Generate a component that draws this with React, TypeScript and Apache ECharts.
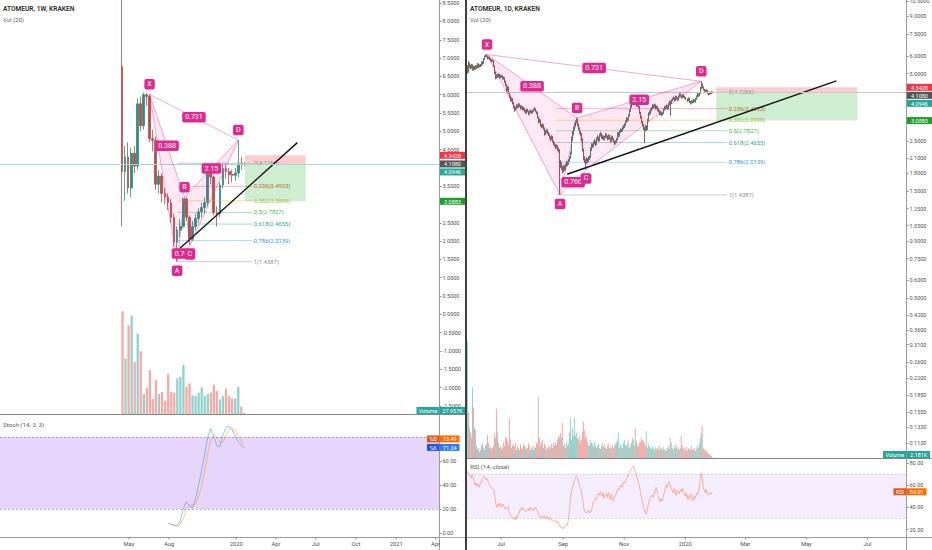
import React, { useEffect, useRef } from 'react';
import * as echarts from 'echarts';

const FONT = 'Roboto, "Noto Sans", "DejaVu Sans", sans-serif';

// ---------------- LEFT: weekly ----------------
const weekDates = ['2019-04-15','2019-04-22','2019-04-29','2019-05-06','2019-05-13','2019-05-20','2019-05-27','2019-06-03','2019-06-10','2019-06-17','2019-06-24','2019-07-01','2019-07-08','2019-07-15','2019-07-22','2019-07-29','2019-08-05','2019-08-12','2019-08-19','2019-08-26','2019-09-02','2019-09-09','2019-09-16','2019-09-23','2019-09-30','2019-10-07','2019-10-14','2019-10-21','2019-10-28','2019-11-04','2019-11-11','2019-11-18','2019-11-25','2019-12-02','2019-12-09','2019-12-16','2019-12-23','2019-12-30','2020-01-06','2020-01-13','2020-01-20'];
const weekOpen = [6.77,3.90,4.30,3.45,4.40,4.05,5.75,5.15,6.00,5.95,4.80,4.75,3.55,3.78,3.30,3.20,3.05,2.65,1.97,2.30,2.40,3.15,2.65,2.05,2.40,2.62,2.80,2.92,3.05,3.95,3.75,2.78,2.74,3.53,3.98,3.90,3.82,3.80,3.86,4.13,4.10];
const weekClose = [3.90,4.30,3.45,4.40,4.05,5.75,5.15,6.00,5.95,4.80,4.75,3.55,3.78,3.30,3.20,3.05,2.65,1.97,2.30,2.40,3.15,2.65,2.05,2.40,2.62,2.80,2.92,3.05,3.95,3.75,2.78,2.74,3.53,3.98,3.90,3.82,3.80,3.86,4.13,4.10,4.108];
const weekLow = [2.40,3.10,3.30,3.20,3.85,3.95,5.00,5.05,5.70,4.70,4.45,3.40,3.30,3.05,3.00,2.85,2.50,1.85,1.44,2.10,2.35,2.55,1.90,2.00,2.30,2.50,2.65,2.75,2.95,3.55,2.70,2.40,2.65,3.45,3.70,3.55,3.60,3.65,3.75,3.95,4.05];
const weekHigh = [9.20,4.60,4.70,4.55,4.60,5.90,5.95,6.05,6.04,6.02,5.05,4.85,3.95,3.85,3.45,3.30,3.15,2.75,2.40,2.60,3.20,3.20,2.70,2.55,2.75,2.90,3.05,3.20,4.05,4.05,3.80,2.95,3.60,4.15,4.15,4.00,3.95,4.00,4.76,4.30,4.15];
const weekVolume = [2163,1169,1869,2072,1099,1694,1323,420,553,924,315,714,420,462,280,840,462,448,749,784,1029,574,644,399,378,448,560,378,420,448,616,483,308,378,532,378,322,322,574,154,28];
// Stoch %K starts at week index 15, %D at week index 16
const stochK = [8.2,7.4,6.2,5.6,10,20,26,23,21,28,40,52,65,80,87,80,73,72,82,88,89,86,80,76,73,71.34];
const stochD = [7.8,7.0,6.3,7.3,12,19,23,23.5,24,30,40,52,66,77,82,80,75,76,81,86,88,85,81,76,73.49];

// ---------------- RIGHT: daily ----------------
const dayStart = '2019-05-28';
const dayFirstOpen = 5.05;
const dayClose = [
5.35,5.10,5.55,5.40,5.30,5.45,5.20,5.35,5.25,5.40,
5.30,5.50,5.35,5.45,5.40,5.60,5.55,5.80,5.95,6.05,
5.98,5.85,5.90,5.80,5.75,5.70,5.72,5.40,5.05,4.80,
4.90,4.85,4.95,4.80,4.90,4.85,4.75,4.80,4.60,4.45,
4.20,4.35,4.10,3.95,3.80,3.85,3.70,3.55,3.45,3.50,
3.60,3.55,3.65,3.60,3.50,3.55,3.45,3.50,3.40,3.35,
3.45,3.40,3.30,3.38,3.42,3.35,3.40,3.45,3.48,3.40,
3.35,3.20,3.05,3.10,2.95,2.90,2.95,2.85,2.70,2.75,
2.80,2.72,2.68,2.60,2.55,2.62,2.50,2.45,2.40,2.35,
2.38,2.30,2.28,1.95,2.00,1.90,1.85,1.92,1.88,1.95,
2.00,1.98,2.05,2.10,2.20,2.55,2.70,2.85,2.95,3.05,
3.12,2.95,2.85,2.75,2.70,2.55,2.30,2.10,2.05,2.02,
2.08,2.05,2.10,2.12,2.30,2.40,2.38,2.45,2.50,2.42,
2.55,2.60,2.52,2.65,2.70,2.58,2.62,2.55,2.60,2.68,
2.62,2.55,2.65,2.58,2.50,2.62,2.55,2.50,2.45,2.48,
2.55,2.70,2.65,2.75,2.80,2.78,2.85,2.90,2.95,3.05,
3.15,3.10,3.25,3.40,3.55,3.70,3.82,3.75,3.70,3.72,
3.60,3.65,3.55,3.35,3.20,3.05,2.95,2.85,2.80,2.90,
2.82,3.10,3.30,3.35,3.45,3.50,3.60,3.55,3.62,3.50,
3.55,3.45,3.40,3.30,3.35,3.28,3.32,3.45,3.55,3.50,
3.60,3.48,3.65,3.75,3.70,3.80,3.85,3.90,3.80,3.95,
3.88,3.82,3.95,4.05,3.98,3.90,4.02,3.95,3.90,3.85,
3.80,3.88,3.75,3.70,3.78,3.72,3.82,3.75,3.85,3.95,
4.05,3.98,4.10,4.30,4.50,4.35,4.25,4.20,4.15,4.22,
4.10,4.05,4.12,4.08,4.15,4.108];
const dayHigh = [
6.15,5.45,5.70,5.60,5.48,5.52,5.50,5.42,5.40,5.46,
5.45,5.58,5.55,5.50,5.52,5.66,5.68,5.86,6.02,6.10,
6.08,6.00,5.96,5.93,5.85,5.80,5.78,5.75,5.45,5.10,
4.98,4.96,5.02,4.98,4.95,4.94,4.90,4.86,4.82,4.65,
4.50,4.40,4.38,4.15,4.00,3.92,3.88,3.74,3.60,3.56,
3.66,3.64,3.70,3.68,3.62,3.60,3.58,3.55,3.52,3.44,
3.50,3.48,3.42,3.42,3.46,3.44,3.44,3.50,3.55,3.50,
3.42,3.38,3.22,3.15,3.12,2.98,3.00,2.97,2.88,2.80,
2.84,2.82,2.75,2.70,2.63,2.66,2.64,2.52,2.48,2.42,
2.42,2.40,2.34,2.30,2.06,2.02,1.94,1.96,1.95,1.99,
2.04,2.03,2.08,2.14,2.25,2.62,2.78,2.90,3.02,3.10,
3.18,3.14,2.98,2.88,2.78,2.72,2.58,2.32,2.14,2.08,
2.12,2.10,2.14,2.16,2.35,2.45,2.44,2.50,2.55,2.52,
2.60,2.66,2.62,2.70,2.75,2.72,2.66,2.65,2.64,2.72,
2.70,2.65,2.68,2.67,2.60,2.65,2.64,2.58,2.52,2.52,
2.58,2.75,2.74,2.80,2.85,2.84,2.90,2.95,3.00,3.10,
3.20,3.18,3.30,3.46,3.62,3.78,3.92,3.86,3.80,3.78,
3.75,3.70,3.68,3.58,3.38,3.24,3.08,2.98,2.90,2.95,
2.94,3.15,3.36,3.42,3.50,3.56,3.66,3.64,3.68,3.65,
3.60,3.58,3.50,3.44,3.40,3.38,3.36,3.50,3.60,3.58,
3.65,3.62,3.70,3.80,3.78,3.85,3.90,3.96,3.92,4.00,
3.98,3.92,4.00,4.10,4.08,4.00,4.06,4.04,3.98,3.94,
3.88,3.92,3.90,3.78,3.82,3.80,3.86,3.84,3.90,4.00,
4.10,4.08,4.15,4.36,4.62,4.52,4.38,4.28,4.24,4.26,
4.24,4.14,4.16,4.15,4.18,4.17];
const dayLow = [
4.60,5.00,5.05,5.30,5.22,5.25,5.15,5.15,5.18,5.20,
5.25,5.28,5.30,5.32,5.35,5.38,5.48,5.52,5.75,5.90,
5.92,5.78,5.80,5.74,5.68,5.62,5.65,5.35,4.98,4.72,
4.75,4.78,4.82,4.74,4.76,4.80,4.70,4.70,4.55,4.40,
4.15,4.16,4.05,3.90,3.75,3.76,3.65,3.50,3.38,3.42,
3.46,3.50,3.52,3.55,3.46,3.47,3.42,3.42,3.36,3.30,
3.32,3.36,3.26,3.28,3.34,3.31,3.32,3.38,3.42,3.36,
3.30,3.15,3.00,3.02,2.90,2.85,2.86,2.80,2.65,2.66,
2.72,2.68,2.64,2.56,2.50,2.52,2.46,2.40,2.36,2.30,
2.32,2.26,2.22,1.44,1.90,1.86,1.80,1.82,1.84,1.86,
1.92,1.94,1.96,2.02,2.08,2.18,2.50,2.66,2.80,2.90,
3.00,2.90,2.80,2.70,2.64,2.50,2.25,2.05,2.00,1.87,
1.98,2.00,2.02,2.06,2.10,2.26,2.33,2.35,2.42,2.38,
2.40,2.52,2.48,2.50,2.62,2.55,2.55,2.52,2.52,2.58,
2.58,2.52,2.53,2.55,2.46,2.48,2.52,2.46,2.40,2.42,
2.45,2.52,2.60,2.62,2.72,2.74,2.76,2.82,2.86,2.92,
3.02,3.05,3.08,3.22,3.38,3.52,3.66,3.70,3.64,3.62,
3.55,3.56,3.50,3.30,3.15,3.00,2.90,2.80,2.45,2.76,
2.78,2.80,3.05,3.25,3.30,3.40,3.46,3.50,3.52,3.46,
3.47,3.40,3.36,3.26,3.27,3.24,3.25,3.30,3.42,3.46,
3.48,3.44,3.46,3.62,3.25,3.66,3.76,3.82,3.76,3.78,
3.84,3.78,3.80,3.92,3.94,3.86,3.88,3.90,3.86,3.80,
3.74,3.76,3.70,3.64,3.68,3.68,3.70,3.72,3.72,3.82,
3.92,3.94,3.96,4.06,4.25,4.30,4.20,4.14,4.10,4.12,
4.06,4.00,4.02,4.04,4.05,4.08];
const dayVolume = [
345,135,90,75,60,210,150,90,84,36,
24,30,18,24,36,45,30,24,36,42,
69,45,30,36,24,30,36,75,60,147,
75,45,30,36,24,30,45,36,60,60,
51,39,117,54,30,36,42,33,45,24,
36,30,24,39,30,27,42,36,33,27,
30,42,36,24,30,36,24,33,30,45,
42,180,60,36,45,54,30,42,36,24,
30,36,27,33,42,30,45,36,48,39,
54,66,60,75,60,105,36,42,30,48,
36,42,75,117,54,90,66,120,66,75,
60,54,66,45,54,78,108,84,60,66,
48,39,36,54,45,42,33,48,39,30,
36,42,30,27,36,45,33,39,30,27,
36,42,30,33,27,39,30,36,42,45,
51,75,30,42,36,30,45,54,39,36,
42,54,30,36,45,60,54,36,90,51,
39,33,45,48,60,54,51,45,36,81,
30,42,36,30,27,36,30,24,33,27,
30,24,36,27,30,24,33,27,21,24,
30,36,27,60,45,30,24,36,30,42,
27,33,24,30,66,36,27,30,24,33,
21,27,30,24,36,27,24,30,21,27,
36,30,42,60,75,96,30,27,21,24,
18,15,12,9,6,2.181];
const dayRsi = [
70,72,71,68,66,69,67,63,60,62,
59,61,58,60,62,64,66,68,67,65,
66,63,62,60,58,57,56,55,48,42,
40,43,41,44,42,40,43,41,39,38,
40,41,36,34,32,31,30,31,29,32,
30,33,35,38,37,40,38,39,37,36,
38,39,37,40,38,39,37,38,40,39,
37,35,33,31,32,30,31,33,31,30,
32,30,29,31,30,28,29,28,27,28,
26,27,25,22,23,21,22,21,23,25,
24,27,35,45,52,56,60,63,66,68,
67,64,61,58,56,50,44,38,36,35,
36,37,35,37,36,40,44,46,48,47,
50,52,51,54,52,50,53,48,51,52,
49,53,50,47,52,49,46,48,50,52,
55,57,56,59,60,58,61,63,62,65,
67,69,71,73,74,76,77,75,72,70,
66,63,60,55,50,46,42,38,35,34,
38,42,46,48,50,51,49,52,55,58,
54,50,47,45,48,46,50,53,57,60,
58,61,63,60,57,55,53,57,54,51,
55,53,52,56,54,57,55,52,50,53,
48,51,47,49,52,48,46,50,48,51,
53,52,58,65,71,66,58,55,53,56,
52,51,52,53,52,54.01];

// ---------------- ticks ----------------
const leftPriceTicks = [8.5,8,7.5,7,6.5,6,5.5,5,4.5,3.5,2.5,2,1.5,1,0.5,0,-0.5,-1,-1.5,-2,-2.5];
const rightPriceTicks = [10.5,9,7.5,6,5,2.5,2.1,1.8,1.5,1.25,1.05,0.9,0.75,0.6,0.5,0.42,0.36,0.31,0.26,0.22,0.185,0.155,0.133,0.113];
const stochTicks = [60,40,20,0];
const rsiTicks = [80,60,40,20];
const leftDateTicks = ['2019-05-01','2019-08-01','2020-01-01','2020-04-01','2020-07-01','2020-10-01','2021-01-01','2021-04-01'];
const rightDateTicks = ['2019-07-01','2019-09-01','2019-11-01','2020-01-01','2020-03-01','2020-05-01','2020-07-01'];

// ---------------- drawings ----------------
const leftPattern = { X: ['2019-06-17', 6.01], A: ['2019-08-19', 1.4387], B: ['2019-09-05', 3.2], C: ['2019-09-17', 1.88], D: ['2020-01-06', 4.76] };
const rightPattern = { X: ['2019-06-17', 6.08], A: ['2019-08-29', 1.4387], B: ['2019-09-15', 3.17], C: ['2019-09-24', 1.87], D: ['2020-01-17', 4.62] };
const patternRatios = { XB: '0.388', XD: '0.731', BD: '2.15', AC: '0.760' };
const fibLevels = [0, 0.236, 0.382, 0.5, 0.618, 0.786, 1];
const fibPrices = [4.1266, 3.4923, 3.0998, 2.7827, 2.4655, 2.0139, 1.4387];
const fibLineColors = ['#c6c6c6','rgba(242,54,69,0.35)','rgba(255,152,0,0.4)','rgba(76,175,80,0.4)','rgba(8,153,129,0.35)','rgba(33,150,243,0.35)','#cccccc'];
const fibTextColors = ['#8d8d8d','#b86a30','#a3be3a','#3fb83f','#1fa88e','#2f8fd8','#8d8d8d'];
const leftFibRange = ['2019-08-20', '2020-02-07'];
const rightFibRange = ['2019-08-25', '2020-02-12'];
const positionPrices = { stop: 4.3428, entry: 4.108, target: 3.0883 };
const leftBoxRange = ['2020-01-21', '2020-06-08'];
const rightBoxRange = ['2020-02-01', '2020-06-21'];
const leftTrend = [['2019-08-25', 1.80], ['2020-05-20', 4.69]];
const rightTrend = [['2019-09-05', 1.78], ['2020-05-31', 4.64]];
const lastPrice = 4.108;
const lastPrice2 = 4.0946;

const UP = '#2f8d80';
const DOWN = '#b54e4b';
const UP_D = '#1f5f56';
const DOWN_D = '#7a2f2c';
const VOL_UP = 'rgba(38,166,154,0.5)';
const VOL_DOWN = 'rgba(239,83,80,0.5)';
const PINK = '#dc2a90';
const MONTHS = ['Jan','Feb','Mar','Apr','May','Jun','Jul','Aug','Sep','Oct','Nov','Dec'];

const ts = (s: string) => new Date(s + 'T00:00:00').getTime();
const fmtDate = (v: number) => {
  const d = new Date(v);
  return d.getMonth() === 0 ? String(d.getFullYear()) : MONTHS[d.getMonth()];
};

function makePattern(pts: any) {
  return (params: any, api: any) => {
    const c = (p: any) => api.coord([ts(p[0]), p[1]]);
    const X = c(pts.X), A = c(pts.A), B = c(pts.B), C = c(pts.C), D = c(pts.D);
    const fill = 'rgba(233,30,140,0.10)';
    const edge = 'rgba(220,42,144,0.5)';
    const mid = (p: number[], q: number[]) => [(p[0] + q[0]) / 2, (p[1] + q[1]) / 2];
    const tag = (text: string, p: number[], dy: number) => ({
      type: 'text', x: p[0], y: p[1] + dy,
      style: { text, fill: '#fff', fontSize: 7, fontFamily: FONT, align: 'center', verticalAlign: 'middle', backgroundColor: PINK, padding: [2, 3, 1.5, 3], borderRadius: 2 },
    });
    const children: any[] = [
      { type: 'polygon', shape: { points: [X, A, B] }, style: { fill, stroke: edge, lineWidth: 0.8 } },
      { type: 'polygon', shape: { points: [B, C, D] }, style: { fill, stroke: edge, lineWidth: 0.8 } },
      { type: 'line', shape: { x1: X[0], y1: X[1], x2: D[0], y2: D[1] }, style: { stroke: edge, lineWidth: 0.8 } },
      { type: 'line', shape: { x1: A[0], y1: A[1], x2: C[0], y2: C[1] }, style: { stroke: edge, lineWidth: 0.8 } },
      tag(patternRatios.XB, mid(X, B), 0),
      tag(patternRatios.XD, mid(X, D), 0),
      tag(patternRatios.BD, mid(B, D), 0),
      tag(patternRatios.AC, mid(A, C), 0),
      tag('X', X, -10),
      tag('A', A, 9),
      tag('B', B, -10),
      tag('C', C, 9),
      tag('D', D, -10),
    ];
    return { type: 'group', children };
  };
}

function makeFib(range: string[]) {
  return (params: any, api: any) => {
    const x0 = api.coord([ts(range[0]), fibPrices[0]])[0];
    const x1 = api.coord([ts(range[1]), fibPrices[0]])[0];
    const children: any[] = [];
    fibPrices.forEach((p, i) => {
      const y = api.coord([ts(range[0]), p])[1];
      children.push({ type: 'line', shape: { x1: x0, y1: y, x2: x1, y2: y }, style: { stroke: fibLineColors[i], lineWidth: 1 } });
      children.push({ type: 'text', x: x1 + 1.5, y, style: { text: fibLevels[i] + '(' + p.toFixed(4) + ')', fill: fibTextColors[i], fontSize: 5.8, fontFamily: FONT, align: 'left', verticalAlign: 'middle' } });
    });
    return { type: 'group', children };
  };
}

function makeBox(range: string[]) {
  return (params: any, api: any) => {
    const a = api.coord([ts(range[0]), positionPrices.stop]);
    const b = api.coord([ts(range[1]), positionPrices.entry]);
    const c = api.coord([ts(range[1]), positionPrices.target]);
    return {
      type: 'group',
      children: [
        { type: 'rect', shape: { x: a[0], y: a[1], width: b[0] - a[0], height: b[1] - a[1] }, style: { fill: 'rgba(242,54,69,0.25)' } },
        { type: 'rect', shape: { x: a[0], y: b[1], width: b[0] - a[0], height: c[1] - b[1] }, style: { fill: 'rgba(34,171,46,0.22)' } },
      ],
    };
  };
}

const axisLabelStyle = { fontSize: 5.5, color: '#505050', fontFamily: FONT };

function timeAxis(gridIndex: number, min: string, max: string) {
  return {
    type: 'time', gridIndex, min: ts(min), max: ts(max),
    axisLine: { show: false },
    axisTick: { show: false },
    axisLabel: { show: false },
    splitLine: { show: false },
    axisPointer: { show: false },
  };
}

function priceAxis(gridIndex: number, min: number, max: number, ticks: number[], digits: number, fmt?: (v: number) => string) {
  return {
    type: 'value', gridIndex, position: 'right', min, max,
    axisLine: { show: false },
    axisTick: { show: true, length: 2, customValues: ticks, lineStyle: { color: '#8c8c8c' } },
    axisLabel: { show: true, customValues: ticks, margin: 3, formatter: fmt || ((v: number) => v.toFixed(digits)), ...axisLabelStyle },
    splitLine: { show: false },
    axisPointer: { show: false },
  };
}

const hiddenAxis = (gridIndex: number, min: number, max: number) => ({
  type: 'value', gridIndex, min, max, show: false, splitLine: { show: false },
});

export default function App() {
  const ref = useRef<HTMLDivElement>(null);

  useEffect(() => {
    const el = ref.current;
    if (!el) return;
    document.body.style.margin = '0';
    const chart = echarts.init(el, null, { renderer: 'svg' });

    const weekCandles = weekDates.map((d, i) => [ts(d), weekOpen[i], weekClose[i], weekLow[i], weekHigh[i]]);
    const weekVol = weekDates.map((d, i) => ({ value: [ts(d), weekVolume[i]], itemStyle: { color: weekClose[i] >= weekOpen[i] ? VOL_UP : VOL_DOWN } }));
    const kData = stochK.map((v, i) => [ts(weekDates[i + 15]), v]);
    const dData = stochD.map((v, i) => [ts(weekDates[i + 16]), v]);

    const t0 = ts(dayStart);
    const dayTs = dayClose.map((_, i) => t0 + i * 86400000);
    const dayOpen = dayClose.map((_, i) => (i === 0 ? dayFirstOpen : dayClose[i - 1]));
    const dayCandles = dayClose.map((c, i) => [dayTs[i], dayOpen[i], c, dayLow[i], dayHigh[i]]);
    const dayVol = dayVolume.map((v, i) => ({ value: [dayTs[i], v], itemStyle: { color: dayClose[i] >= dayOpen[i] ? VOL_UP : VOL_DOWN } }));
    const rsiData = dayRsi.map((v, i) => [dayTs[i], v]);

    const rMin = 0.0969, rMax = 10.64;

    const gridBase = { containLabel: false, outerBoundsMode: 'none', show: false };
    const option: any = {
      animation: false,
      backgroundColor: '#ffffff',
      tooltip: { show: false },
      grid: [
        { ...gridBase, left: 0, top: 0, width: 439.5, height: 414 },
        { ...gridBase, left: 0, top: 300, width: 439.5, height: 114 },
        { ...gridBase, left: 0, top: 414, width: 439.5, height: 123 },
        { ...gridBase, left: 467, top: 0, width: 439.5, height: 458 },
        { ...gridBase, left: 467, top: 330, width: 439.5, height: 128 },
        { ...gridBase, left: 467, top: 458, width: 439.5, height: 79 },
      ],
      xAxis: [
        timeAxis(0, '2018-07-10', '2021-04-10'),
        timeAxis(1, '2018-07-10', '2021-04-10'),
        timeAxis(2, '2018-07-10', '2021-04-10'),
        timeAxis(3, '2019-05-28', '2020-08-09'),
        timeAxis(4, '2019-05-28', '2020-08-09'),
        timeAxis(5, '2019-05-28', '2020-08-09'),
      ],
      yAxis: [
        priceAxis(0, -2.724, 8.587, leftPriceTicks, 4),
        hiddenAxis(1, 0, 2400),
        priceAxis(2, -3.33, 99.2, stochTicks, 2),
        { type: 'log', gridIndex: 3, position: 'right', min: rMin, max: rMax, logBase: 10, axisLine: { show: false }, axisTick: { show: false }, axisLabel: { show: false }, splitLine: { show: false } },
        priceAxis(3, Math.log(rMin), Math.log(rMax), rightPriceTicks.map(Math.log), 4, (v: number) => Math.exp(v).toFixed(4)),
        hiddenAxis(4, 0, 380),
        priceAxis(5, 13.45, 84.3, rsiTicks, 2),
      ],
      series: [
        // ---- left ----
        { type: 'custom', name: 'leftBox', coordinateSystem: 'cartesian2d', xAxisIndex: 0, yAxisIndex: 0, z: 1, silent: true, data: [[ts(leftBoxRange[0]), positionPrices.entry]], renderItem: makeBox(leftBoxRange) },
        { type: 'bar', name: 'leftVol', xAxisIndex: 1, yAxisIndex: 1, barWidth: 2.3, data: weekVol, z: 1, silent: true },
        {
          type: 'candlestick', name: 'leftCandles', xAxisIndex: 0, yAxisIndex: 0, barWidth: 2.2, clip: true, z: 2, silent: true, data: weekCandles,
          itemStyle: { color: UP, color0: DOWN, borderColor: UP, borderColor0: DOWN, borderWidth: 0.8 },
          markLine: { silent: true, symbol: ['none', 'none'], label: { show: false }, lineStyle: { color: '#a3dad2', width: 1, type: 'solid' }, data: [{ yAxis: lastPrice }] },
        },
        { type: 'custom', name: 'leftFib', coordinateSystem: 'cartesian2d', xAxisIndex: 0, yAxisIndex: 0, z: 3, silent: true, data: [[ts(leftFibRange[0]), fibPrices[0]]], renderItem: makeFib(leftFibRange) },
        { type: 'line', name: 'leftTrend', xAxisIndex: 0, yAxisIndex: 0, z: 4, silent: true, symbol: 'none', data: leftTrend.map((p: any) => [ts(p[0]), p[1]]), lineStyle: { color: '#111', width: 1.4 } },
        { type: 'custom', name: 'leftPattern', coordinateSystem: 'cartesian2d', xAxisIndex: 0, yAxisIndex: 0, z: 5, silent: true, data: [[ts(leftPattern.X[0] as string), leftPattern.X[1]]], renderItem: makePattern(leftPattern) },
        {
          type: 'line', name: '%K', xAxisIndex: 2, yAxisIndex: 2, symbol: 'none', z: 3, silent: true, data: kData, lineStyle: { color: 'rgba(33,150,243,0.6)', width: 0.9 },
          markArea: { silent: true, itemStyle: { color: 'rgba(155,72,238,0.23)' }, data: [[{ yAxis: 20 }, { yAxis: 80 }]] },
          markLine: { silent: true, symbol: ['none', 'none'], label: { show: false }, lineStyle: { color: 'rgba(120,100,150,0.7)', width: 0.7, type: [2, 2] }, data: [{ yAxis: 80 }, { yAxis: 20 }] },
        },
        { type: 'line', name: '%D', xAxisIndex: 2, yAxisIndex: 2, symbol: 'none', z: 3, silent: true, data: dData, lineStyle: { color: 'rgba(255,152,0,0.6)', width: 0.9 } },
        // ---- right ----
        { type: 'custom', name: 'rightBox', coordinateSystem: 'cartesian2d', xAxisIndex: 3, yAxisIndex: 3, z: 1, silent: true, data: [[ts(rightBoxRange[0]), positionPrices.entry]], renderItem: makeBox(rightBoxRange) },
        { type: 'bar', name: 'rightVol', xAxisIndex: 4, yAxisIndex: 5, barWidth: 0.9, data: dayVol, z: 1, silent: true },
        {
          type: 'candlestick', name: 'rightCandles', xAxisIndex: 3, yAxisIndex: 3, barWidth: 0.9, clip: true, z: 2, silent: true, data: dayCandles,
          itemStyle: { color: UP_D, color0: DOWN_D, borderColor: UP_D, borderColor0: DOWN_D, borderWidth: 0.8 },
          markLine: { silent: true, symbol: ['none', 'none'], label: { show: false }, lineStyle: { color: '#c8c8c8', width: 1, type: 'solid' }, data: [{ yAxis: lastPrice }] },
        },
        { type: 'custom', name: 'rightFib', coordinateSystem: 'cartesian2d', xAxisIndex: 3, yAxisIndex: 3, z: 3, silent: true, data: [[ts(rightFibRange[0]), fibPrices[0]]], renderItem: makeFib(rightFibRange) },
        { type: 'line', name: 'rightTrend', xAxisIndex: 3, yAxisIndex: 3, z: 4, silent: true, symbol: 'none', data: rightTrend.map((p: any) => [ts(p[0]), p[1]]), lineStyle: { color: '#111', width: 1.4 } },
        { type: 'custom', name: 'rightPattern', coordinateSystem: 'cartesian2d', xAxisIndex: 3, yAxisIndex: 3, z: 5, silent: true, data: [[ts(rightPattern.X[0] as string), rightPattern.X[1]]], renderItem: makePattern(rightPattern) },
        {
          type: 'line', name: 'RSI', xAxisIndex: 5, yAxisIndex: 6, symbol: 'none', z: 3, silent: true, data: rsiData, lineStyle: { color: 'rgba(242,128,70,0.6)', width: 0.9 },
          markArea: { silent: true, itemStyle: { color: 'rgba(155,72,238,0.1)' }, data: [[{ yAxis: 30 }, { yAxis: 70 }]] },
          markLine: { silent: true, symbol: ['none', 'none'], label: { show: false }, lineStyle: { color: 'rgba(150,130,180,0.5)', width: 0.6, type: [2, 2] }, data: [{ yAxis: 70 }, { yAxis: 30 }] },
        },
      ],
    };

    chart.setOption(option);

    // ---------- overlay: headers, separators, date labels, axis badges ----------
    const py = (yAxisIndex: number, v: number) => chart.convertToPixel({ yAxisIndex } as any, v) as unknown as number;
    const px = (xAxisIndex: number, v: number) => chart.convertToPixel({ xAxisIndex } as any, v) as unknown as number;
    const g: any[] = [];
    const text = (x: number, y: number, t: string, size: number, color: string, weight: any = 'normal', align = 'left') =>
      ({ type: 'text', z: 120, x, y, style: { text: t, fill: color, fontSize: size, fontFamily: FONT, fontWeight: weight, align, verticalAlign: 'middle' } });
    const rect = (x: number, y: number, w: number, h: number, fill: string, z = 110) => ({ type: 'rect', z, shape: { x, y, width: w, height: h }, style: { fill } });
    const line = (x1: number, y1: number, x2: number, y2: number, color: string, w = 1) => ({ type: 'line', z: 100, shape: { x1, y1, x2, y2 }, style: { stroke: color, lineWidth: w } });
    const badge = (x: number, y: number, w: number, t: string, bg: string) => {
      g.push(rect(x, y - 3.5, w, 7, bg));
      g.push(text(x + w / 2, y + 0.3, t, 5.5, '#ffffff', 'normal', 'center'));
    };

    // frame lines
    g.push(line(439.5, 0, 439.5, 550, '#9a9a9a'));
    g.push(line(906.5, 0, 906.5, 550, '#9a9a9a'));
    g.push(line(0, 414.5, 466, 414.5, '#858585'));
    g.push(line(467, 458.5, 932, 458.5, '#858585'));
    g.push(line(0, 537.5, 932, 537.5, '#9a9a9a'));

    // date labels
    leftDateTicks.forEach((d) => {
      const x = px(2, ts(d));
      g.push(line(x, 537.5, x, 539.5, '#8c8c8c'));
      g.push(text(x, 544, fmtDate(ts(d)), 5.8, '#505050', 'normal', 'center'));
    });
    rightDateTicks.forEach((d) => {
      const x = px(5, ts(d));
      g.push(line(x, 537.5, x, 539.5, '#8c8c8c'));
      g.push(text(x, 544, fmtDate(ts(d)), 5.8, '#505050', 'normal', 'center'));
    });
    g.push(rect(440, 537.8, 25, 12, '#ffffff', 104));
    g.push(rect(465, 0, 2, 550, '#3f3f3f', 105));

    // headers
    g.push(text(3, 9, 'ATOMEUR, 1W, KRAKEN', 6.6, '#2a2a2a', 600));
    g.push(text(3, 19, 'Vol (20)', 6, '#5a5a5a'));
    g.push(text(470, 9, 'ATOMEUR, 1D, KRAKEN', 6.6, '#2a2a2a', 600));
    g.push(text(470, 19, 'Vol (20)', 6, '#5a5a5a'));
    g.push(text(3, 424.5, 'Stoch (14, 3, 3)', 6.2, '#5a5a5a'));
    g.push(text(470, 467, 'RSI (14, close)', 6.2, '#5a5a5a'));

    // price badges left
    const lRed = py(0, positionPrices.stop);
    const lGray = Math.max(py(0, lastPrice), lRed + 8);
    badge(440, lRed, 25, positionPrices.stop.toFixed(4), '#f23645');
    badge(440, lGray, 25, lastPrice.toFixed(4), '#555555');
    badge(440, lGray + 8, 25, lastPrice2.toFixed(4), '#26a69a');
    badge(440, py(0, positionPrices.target), 25, positionPrices.target.toFixed(4), '#1f9e2c');

    // price badges right
    const rRed = py(3, positionPrices.stop);
    const rGray = Math.max(py(3, lastPrice), rRed + 8);
    badge(907, rRed, 25, positionPrices.stop.toFixed(4), '#f23645');
    badge(907, rGray, 25, lastPrice.toFixed(4), '#555555');
    badge(907, rGray + 8, 25, lastPrice2.toFixed(4), '#26a69a');
    badge(907, py(3, positionPrices.target), 25, positionPrices.target.toFixed(4), '#1f9e2c');

    // volume badges
    badge(416.5, 410.5, 23, 'Volume', '#26a69a');
    badge(440, 410.5, 25, '27.957K', '#26a69a');
    badge(883, 454.5, 23.5, 'Volume', '#26a69a');
    badge(907, 454.5, 23, '2.181K', '#26a69a');

    // stoch badges
    const kY = py(2, stochK[stochK.length - 1]);
    const dY = Math.min(py(2, stochD[stochD.length - 1]), kY - 8.5);
    badge(427, dY, 12.5, '%D', '#e4571f');
    badge(440, dY, 19.5, stochD[stochD.length - 1].toFixed(2), '#ff6d00');
    badge(427, kY, 12.5, '%K', '#1f55d6');
    badge(440, kY, 19.5, stochK[stochK.length - 1].toFixed(2), '#2d7cf6');

    // RSI badge
    const rsiY = py(6, dayRsi[dayRsi.length - 1]);
    badge(893.5, rsiY, 13, 'RSI', '#e4571f');
    badge(907, rsiY, 19.5, dayRsi[dayRsi.length - 1].toFixed(2), '#ff6d00');

    chart.setOption({ graphic: g });

    return () => {
      chart.dispose();
    };
  }, []);

  return (
    <div style={{ position: 'fixed', left: 0, top: 0, width: 932, height: 550, background: '#ffffff' }}>
      <div ref={ref} style={{ width: 932, height: 550 }} />
    </div>
  );
}
